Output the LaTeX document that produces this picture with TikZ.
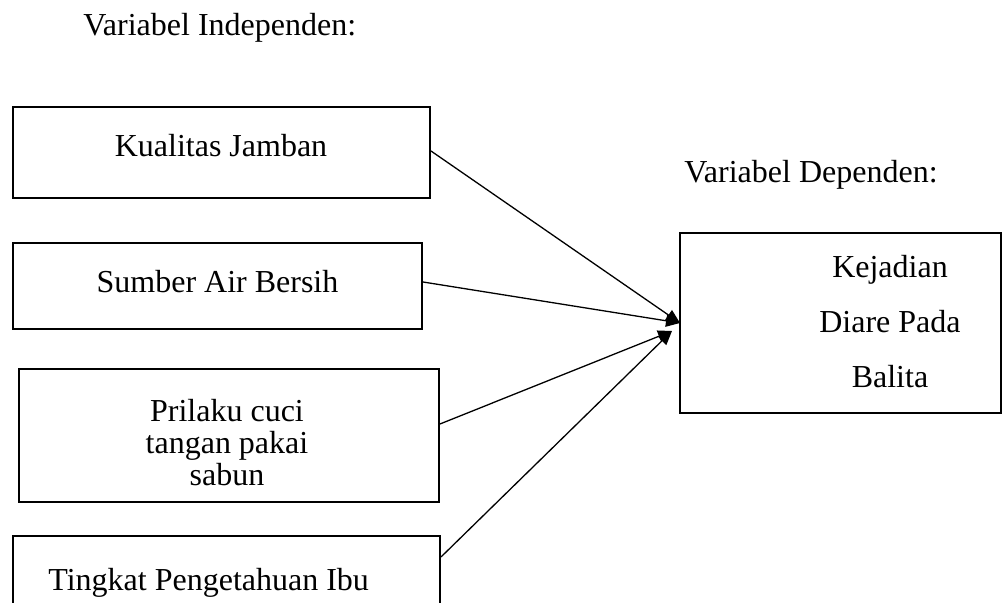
\documentclass[tikz,border=0pt]{standalone}
\usepackage{fontspec}
\setmainfont{Liberation Serif}
\usetikzlibrary{arrows.meta}
\begin{document}
\begin{tikzpicture}[x=0.5pt,y=-0.5pt,
  box/.style={draw,line width=1pt,inner sep=0pt},
  txt/.style={font=\fontsize{16pt}{16pt}\selectfont,inner sep=0pt},
  conn/.style={line width=0.65pt,-{Triangle[length=7pt,width=6pt]}}]
\useasboundingbox (0,0) rectangle (1003,603);
\clip (0,0) rectangle (1003,603);
% boxes
\node[box,minimum width=417*0.5pt,minimum height=91*0.5pt] (b1) at (221.5,152.5) {};
\node[box,minimum width=409*0.5pt,minimum height=86*0.5pt] (b2) at (217.5,286) {};
\node[box,minimum width=420*0.5pt,minimum height=133*0.5pt] (b3) at (229,435.5) {};
\node[box,minimum width=427*0.5pt,minimum height=100*0.5pt] (b4) at (226.5,586) {};
\node[box,minimum width=321*0.5pt,minimum height=180*0.5pt] (d) at (840.5,323) {};
% texts
\node[txt,anchor=base west] (h1) at (83,36) {Variabel Independen:};
\node[txt,anchor=base west] (h2) at (684,183) {Variabel Dependen:};
\node[txt,anchor=base] (t1) at (221,157) {Kualitas Jamban};
\node[txt,anchor=base] (t2) at (217.5,293) {Sumber Air Bersih};
\node[txt,align=center,anchor=center] (t3) at (227,442.5) {Prilaku cuci\\tangan pakai\\sabun};
\node[txt,anchor=base west] (t4) at (48,591) {Tingkat Pengetahuan Ibu};
\node[txt,align=center,anchor=center,font=\fontsize{16pt}{27.5pt}\selectfont] (td) at (890,321.5) {Kejadian\\Diare Pada\\Balita};
% tip coordinates
\coordinate (tipA) at (680,323);
\coordinate (tipB) at (672,331);
% connectors
\draw[conn] (b1.east |- 0,151) -- (tipA);
\draw[conn] (b2.east |- 0,282) -- (tipA);
\draw[conn] (b3.east |- 0,424) -- (tipB);
\draw[conn] (b4.east |- 0,557) -- (tipB);
\end{tikzpicture}
\end{document}
